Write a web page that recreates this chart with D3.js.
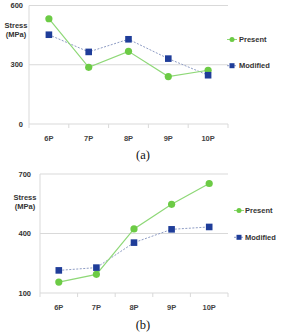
<!DOCTYPE html>
<html><head><meta charset="utf-8">
<script src="https://cdn.jsdelivr.net/npm/d3@7/dist/d3.min.js"></script>
<style>
html,body{margin:0;padding:0;background:#fff;}
svg{display:block;}
</style></head>
<body>
<svg id="c" width="281" height="336"></svg>
<script>
const categories = ["6P","7P","8P","9P","10P"];
const seriesNames = ["Present","Modified"];
// Chart (a)
const presentA = [533, 287, 368, 240, 272];
const modifiedA = [452, 365, 429, 331, 247];
const ticksA = [0, 300, 600];
// Chart (b)
const presentB = [155, 194, 423, 547, 652];
const modifiedB = [214, 228, 354, 421, 433];
const ticksB = [100, 400, 700];
const captions = ["(a)", "(b)"];

const svg = d3.select("#c");
const GREEN = "#6ccb45", BLUE = "#1f3d99", GRID = "#d9d9d9";
const SANS = "'Liberation Sans',Arial,sans-serif";

function drawChart(cfg){
  const g = svg.append("g").style("font-family", SANS);
  const x = d3.scaleBand().domain(categories).range([cfg.x0, cfg.x1]).padding(0);
  const y = d3.scaleLinear().domain(cfg.domain).range([cfg.yBottom, cfg.yTop]);
  g.selectAll(".grid").data(cfg.ticks.slice(1)).enter().append("line")
    .attr("x1", cfg.x0).attr("x2", cfg.x1)
    .attr("y1", d=>y(d)).attr("y2", d=>y(d))
    .attr("stroke", GRID).attr("stroke-width", 1);
  g.append("line").attr("x1", cfg.x0).attr("x2", cfg.x0)
    .attr("y1", y(cfg.domain[1])).attr("y2", y(cfg.domain[0]))
    .attr("stroke", GRID);
  g.append("line").attr("x1", cfg.x0).attr("x2", cfg.x1)
    .attr("y1", y(cfg.domain[0])).attr("y2", y(cfg.domain[0]))
    .attr("stroke", GRID);
  const edges = categories.map(c=>x(c)).concat([x(categories[categories.length-1]) + x.bandwidth()]);
  g.selectAll(".xt").data(edges).enter().append("line")
    .attr("x1", d=>d).attr("x2", d=>d)
    .attr("y1", y(cfg.domain[0])).attr("y2", y(cfg.domain[0]) + 4)
    .attr("stroke", GRID);
  g.selectAll(".yl").data(cfg.ticks).enter().append("text")
    .attr("x", cfg.yLabelX).attr("y", d=>y(d)).attr("dy","0.35em")
    .attr("text-anchor","end").attr("font-size", 7.5).attr("font-weight","bold")
    .attr("fill","#333").text(d=>d);
  g.selectAll(".xl").data(categories).enter().append("text")
    .attr("x", d=>x(d)+x.bandwidth()/2).attr("y", y(cfg.domain[0]) + 14.5).attr("dy","0.35em")
    .attr("text-anchor","middle").attr("font-size", 7.5).attr("font-weight","bold")
    .attr("fill","#444").text(d=>d);
  const t = g.append("text").attr("text-anchor","middle").attr("font-size",7.5)
    .attr("font-weight","bold").attr("fill","#333");
  t.append("tspan").attr("x", cfg.titleX).attr("y", cfg.titleY).text("Stress");
  t.append("tspan").attr("x", cfg.titleX).attr("y", cfg.titleY + 9.5).text("(MPa)");

  const cx = d => x(d)+x.bandwidth()/2;
  const line = d3.line().x((d,i)=>cx(categories[i])).y(d=>y(d));
  g.append("path").datum(cfg.modified).attr("d", line).attr("fill","none")
    .attr("stroke","#8e9cc4").attr("stroke-width",1).attr("stroke-dasharray","2,1.5");
  g.append("path").datum(cfg.present).attr("d", line).attr("fill","none")
    .attr("stroke","#8ed877").attr("stroke-width",1.2);
  g.selectAll(".pm").data(cfg.present).enter().append("circle")
    .attr("cx",(d,i)=>cx(categories[i])).attr("cy",d=>y(d)).attr("r",3.6).attr("fill",GREEN);
  g.selectAll(".mm").data(cfg.modified).enter().append("rect")
    .attr("x",(d,i)=>cx(categories[i])-3.3).attr("y",d=>y(d)-3.3)
    .attr("width",6.6).attr("height",6.6).attr("fill",BLUE);

  const L = cfg.legend;
  seriesNames.forEach((name,i)=>{
    const ly = L.y[i];
    g.append("line").attr("x1",L.mx-5).attr("x2",L.mx+5).attr("y1",ly).attr("y2",ly)
      .attr("stroke", i===0 ? "#8ed877" : "#8e9cc4").attr("stroke-width",1)
      .attr("stroke-dasharray", i===0 ? null : "2,1.5");
    if(i===0) g.append("circle").attr("cx",L.mx).attr("cy",ly).attr("r",2.5).attr("fill",GREEN);
    else g.append("rect").attr("x",L.mx-2.5).attr("y",ly-2.5).attr("width",5).attr("height",5).attr("fill",BLUE);
    g.append("text").attr("x",L.tx).attr("y",ly).attr("dy","0.35em")
      .attr("font-size",7.5).attr("font-weight","bold").attr("fill","#333").text(name);
  });
  g.append("text").attr("x",143).attr("y",cfg.capY).attr("dy","0.35em").attr("text-anchor","middle")
    .style("font-family","'Liberation Serif','Times New Roman',serif").attr("font-size",12.5)
    .attr("fill","#111").text(cfg.caption);
}

drawChart({x0:29, x1:228, domain:[0,600], yBottom:124, yTop:5.5, ticks:ticksA,
  present:presentA, modified:modifiedA, yLabelX:23, titleX:16, titleY:27.5,
  legend:{mx:232, tx:239, y:[39.5,65.7]}, capY:155, caption:captions[0]});
drawChart({x0:40, x1:228, domain:[100,700], yBottom:293, yTop:174, ticks:ticksB,
  present:presentB, modified:modifiedB, yLabelX:31, titleX:25, titleY:199.5,
  legend:{mx:239, tx:245, y:[210.5,237.3]}, capY:324.5, caption:captions[1]});
</script>
</body></html>
